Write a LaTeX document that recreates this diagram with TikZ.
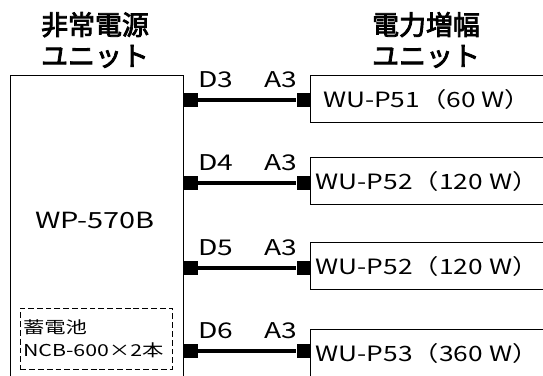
\documentclass[tikz,border=0pt]{standalone}
\usepackage{fontspec}
\setmainfont{Noto Sans CJK JP}
\newfontfamily\widefont[FakeStretch=1.3]{Noto Sans CJK JP}
\newfontfamily\unitfont[FakeStretch=1.25]{Noto Sans CJK JP}
\newfontfamily\headfont[FakeBold=3]{Noto Sans CJK JP}
\usetikzlibrary{positioning}

\begin{document}
\begin{tikzpicture}[
  x=0.03cm, y=-0.03cm,
  title/.style={align=center, font=\headfont\fontsize{23}{26.5}\selectfont},
  unit/.style={rectangle, draw, line width=0.8pt, anchor=west,
               minimum width=7cm, minimum height=1.41cm, inner xsep=2pt,
               font=\unitfont\fontsize{18}{23}\selectfont},
  port/.style={rectangle, fill=black, inner sep=0pt,
               minimum width=0.42cm, minimum height=0.4cm},
  cable/.style={line width=3pt},
  plug/.style={font=\widefont\fontsize{18.5}{20}\selectfont, inner sep=0pt},
]
  \clip (0,0) rectangle (543,376);

  % Headings
  \node[title] (psutitle) at (95,40) {非常電源\\ユニット};
  \node[title] (amptitle) at (426,40) {電力増幅\\ユニット};

  % Emergency power supply unit
  \node[draw, line width=0.8pt, anchor=north west, inner sep=0pt,
        minimum width=5.19cm, minimum height=10cm] (psu) at (10,75) {};
  \node[font=\widefont\fontsize{19}{23}\selectfont] (psuname) at (95,220) {WP-570B};
  \node[draw, dash pattern=on 5pt off 2.5pt, line width=0.6pt,
        anchor=north west, align=left, text width=4.4cm,
        inner xsep=0.08cm, minimum height=1.83cm,
        font=\widefont\fontsize{14}{19.5}\selectfont] (batt) at (20,308)
        {蓄電池\\NCB-600×2本};

  % Power amplifier units
  \node[unit] (amp3) at (310,99) {WU-P51（60 W）};
  \node[unit] (amp4) at (310,181) {WU-P52（120 W）};
  \node[unit] (amp5) at (310,266) {WU-P52（120 W）};
  \node[unit] (amp6) at (310,353) {WU-P53（360 W）};

  % Output ports D3-D6 and input ports A3
  \node[port] (d3) at (190.5,100) {};
  \node[port] (d4) at (190.5,183) {};
  \node[port] (d5) at (190.5,268) {};
  \node[port] (d6) at (190.5,351) {};
  \node[port] (a3) at (303.5,100) {};
  \node[port] (a4) at (303.5,183) {};
  \node[port] (a5) at (303.5,268) {};
  \node[port] (a6) at (303.5,351) {};

  % Cables
  \draw[cable] (d3) -- (a3);
  \draw[cable] (d4) -- (a4);
  \draw[cable] (d5) -- (a5);
  \draw[cable] (d6) -- (a6);

  % Port labels
  \node[plug] (ld3) at (216,80) {D3};
  \node[plug] (la3) at (281,80) {A3};
  \node[plug] (ld4) at (216,163) {D4};
  \node[plug] (la4) at (281,163) {A3};
  \node[plug] (ld5) at (216,248) {D5};
  \node[plug] (la5) at (281,248) {A3};
  \node[plug] (ld6) at (216,331) {D6};
  \node[plug] (la6) at (281,331) {A3};
\end{tikzpicture}
\end{document}
